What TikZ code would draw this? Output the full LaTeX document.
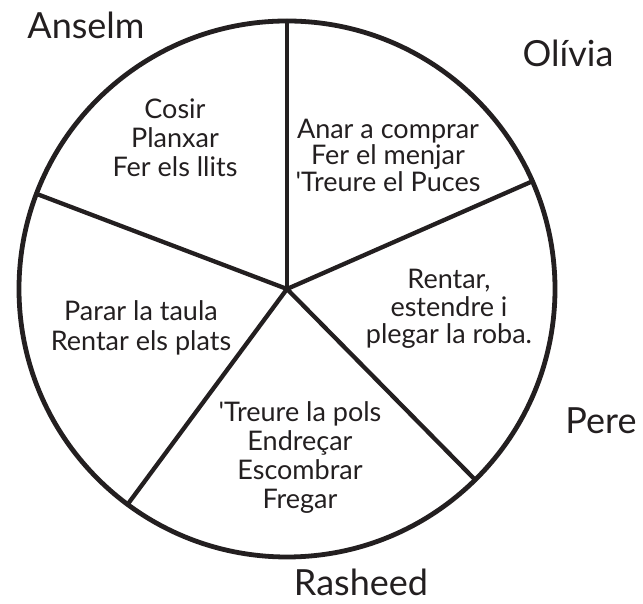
\documentclass[tikz,border=0pt]{standalone}
\usepackage{fontspec}
\setmainfont{Lato}
\usepackage{tikz}
\usetikzlibrary{calc}
\definecolor{inkblack}{RGB}{35,31,32}

\begin{document}
\begin{tikzpicture}[x=1pt, y=1pt,
    chore/.style={align=center, text=inkblack, font=\fontsize{27}{29}\selectfont},
    person/.style={anchor=base, text=inkblack, font=\fontsize{36}{40}\selectfont}]
% Frame: same proportions as the page (643 x 604)
\useasboundingbox (0,0) rectangle (643,604);

% Centre of the wheel and ends of the five spokes
\coordinate (c) at (287, 315);
\coordinate (sTop) at ($(c)+(90:268)$);     % between Anselm and Olivia
\coordinate (sUR) at ($(c)+(23.7:268)$);    % between Olivia and Pere
\coordinate (sLR) at ($(c)+(314.6:268)$);   % between Pere and Rasheed
\coordinate (sLL) at ($(c)+(233.5:268)$);   % between Rasheed and the plates
\coordinate (sUL) at ($(c)+(159.2:268)$);   % between the plates and Anselm

% Wheel
\draw[inkblack, line width=4.8pt] (c) circle (268);

% Spokes
\draw[inkblack, line width=4.3pt, line cap=round] (c) -- (sTop);
\draw[inkblack, line width=4.3pt, line cap=round] (c) -- (sUR);
\draw[inkblack, line width=4.3pt, line cap=round] (c) -- (sLR);
\draw[inkblack, line width=4.3pt, line cap=round] (c) -- (sLL);
\draw[inkblack, line width=4.3pt, line cap=round] (c) -- (sUL);

% Chores in each sector
\node[chore] (anselmJobs) at (175, 466) {Cosir\\Planxar\\Fer els llits};
\node[chore, font=\fontsize{27}{26.5}\selectfont] (oliviaJobs) at (388, 449)
    {Anar a comprar\\Fer el menjar\\\textquotesingle Treure el Puces};
\node[chore, font=\fontsize{27}{27.5}\selectfont] (pereJobs) at (449, 295)
    {Rentar,\\estendre i\\plegar la roba.};
\node[chore] (rasheedJobs) at (300, 146)
    {\textquotesingle Treure la pols\\Endreçar\\Escombrar\\Fregar};
\node[chore, font=\fontsize{27}{30}\selectfont] (plateJobs) at (141, 276)
    {Parar la taula\\Rentar els plats};

% Names round the wheel
\node[person] (anselm) at (86, 565) {Anselm};
\node[person] (olivia) at (568, 537) {Olívia};
\node[person] (pere) at (601, 170) {Pere};
\node[person] (rasheed) at (361, 8) {Rasheed};

\end{tikzpicture}
\end{document}
